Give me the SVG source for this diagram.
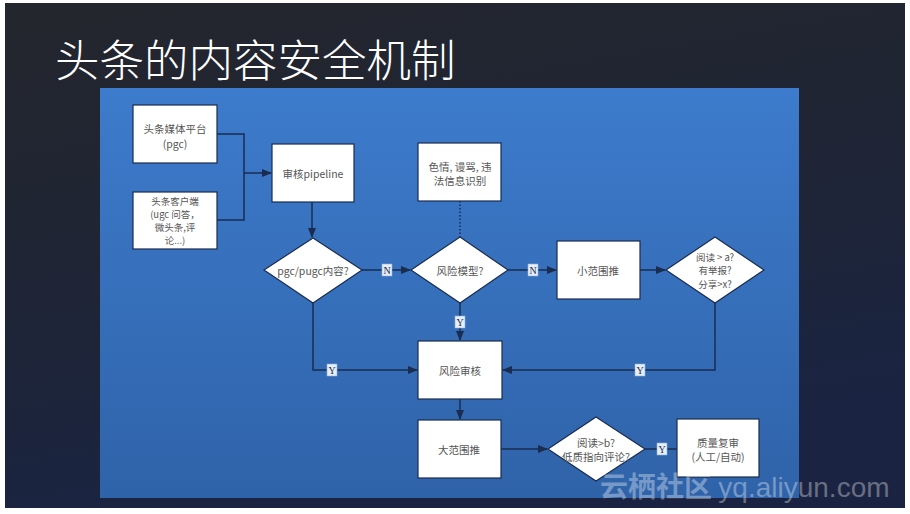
<svg xmlns="http://www.w3.org/2000/svg" width="910" height="514" viewBox="0 0 910 514">
<defs>
<linearGradient id="bg" x1="0" y1="0" x2="0.3" y2="1">
<stop offset="0" stop-color="#24262d"/>
<stop offset="0.5" stop-color="#1f2535"/>
<stop offset="1" stop-color="#1a2442"/>
</linearGradient>
<linearGradient id="panel" x1="0" y1="0" x2="0" y2="1">
<stop offset="0" stop-color="#3d7bcc"/>
<stop offset="1" stop-color="#2f63a9"/>
</linearGradient>
<marker id="arr" viewBox="0 0 10 8" refX="9" refY="4" markerWidth="10" markerHeight="8" markerUnits="userSpaceOnUse" orient="auto">
<path d="M0,0 L10,4 L0,8 Z" fill="#1a2c4f"/>
</marker>
<style>
.node{fill:#ffffff;stroke:#1a2c4f;stroke-width:1.2}
.t{font-family:"Noto Sans CJK SC","Liberation Sans",sans-serif;font-size:10.5px;fill:#555;text-anchor:middle;dominant-baseline:central}
.s{font-size:9.5px}
.c{fill:none;stroke:#1a2c4f;stroke-width:1.5}
.lb{fill:#e6eef8;stroke:#8fb0d8;stroke-width:0.6}
.lt{font-family:"Liberation Serif","DejaVu Serif",serif;font-size:10px;fill:#1a2c4f;text-anchor:middle;dominant-baseline:central}
</style>
</defs>
<rect width="910" height="514" fill="#ffffff"/>
<rect x="5" y="3" width="900" height="505" fill="url(#bg)"/>
<text x="55" y="77" font-family="'Noto Sans CJK SC','Noto Sans',sans-serif" font-size="44.5" fill="#ffffff" font-weight="300">头条的内容安全机制</text>
<rect x="100" y="88" width="699" height="410" fill="url(#panel)"/>

<g id="connectors">
<path class="c" d="M217,134 H244 V220 H217"/>
<path class="c" d="M244,173 H271" marker-end="url(#arr)"/>
<path class="c" d="M312,202 V237" marker-end="url(#arr)"/>
<path class="c" d="M362,270 H410" marker-end="url(#arr)"/>
<path class="c" d="M508,270 H556" marker-end="url(#arr)"/>
<path class="c" d="M640,270 H665" marker-end="url(#arr)"/>
<path class="c" d="M460,201 V237" stroke-dasharray="1.5,2"/>
<path class="c" d="M460,303 V340" marker-end="url(#arr)"/>
<path class="c" d="M313,303 V370 H417" marker-end="url(#arr)"/>
<path class="c" d="M715,303 V370 H503" marker-end="url(#arr)"/>
<path class="c" d="M460,399 V419" marker-end="url(#arr)"/>
<path class="c" d="M501,449 H547" marker-end="url(#arr)"/>
<path class="c" d="M645,449 H677"/>
<g id="labels">
<rect class="lb" x="382" y="264" width="10" height="12"/><text class="lt" x="387" y="270">N</text>
<rect class="lb" x="528" y="264" width="10" height="12"/><text class="lt" x="533" y="270">N</text>
<rect class="lb" x="455" y="316" width="10" height="12"/><text class="lt" x="460" y="322">Y</text>
<rect class="lb" x="327" y="364" width="10" height="12"/><text class="lt" x="332" y="370">Y</text>
<rect class="lb" x="635" y="364" width="10" height="12"/><text class="lt" x="640" y="370">Y</text>
<rect class="lb" x="657" y="443" width="10" height="12"/><text class="lt" x="662" y="449">Y</text>
</g>
</g>

<g id="pgc-platform"><rect class="node" x="133" y="105" width="84" height="58"/><text class="t" x="175" y="128">头条媒体平台</text><text class="t" x="175" y="143">(pgc)</text></g>
<g id="client"><rect class="node" x="133" y="192" width="84" height="57"/><text class="t s" x="175" y="201">头条客户端</text><text class="t s" x="175" y="214">(ugc 问答，</text><text class="t s" x="175" y="227">微头条,评</text><text class="t s" x="175" y="240">论...)</text></g>
<g id="pipeline"><rect class="node" x="272" y="144" width="82" height="58"/><text class="t" x="313" y="173">审核pipeline</text></g>
<g id="pgc-decision"><polygon class="node" points="313,238 362,270 313,303 264,270"/><text class="t" x="313" y="270">pgc/pugc内容?</text></g>
<g id="detect"><rect class="node" x="418" y="143" width="83" height="58"/><text class="t" x="460" y="166">色情, 谩骂, 违</text><text class="t" x="460" y="180">法信息识别</text></g>
<g id="risk-model"><polygon class="node" points="460,237 508,270 460,303 411,270"/><text class="t" x="460" y="270">风险模型?</text></g>
<g id="small-push"><rect class="node" x="557" y="241" width="83" height="58"/><text class="t" x="598" y="270">小范围推</text></g>
<g id="small-decision"><polygon class="node" points="715,237 764,270 715,303 666,270"/><text class="t s" x="715" y="256.5">阅读 &gt; a?</text><text class="t s" x="715" y="270">有举报?</text><text class="t s" x="715" y="283.5">分享&gt;x?</text></g>
<g id="risk-review"><rect class="node" x="418" y="341" width="84" height="58"/><text class="t" x="460" y="370">风险审核</text></g>
<g id="large-push"><rect class="node" x="418" y="420" width="83" height="58"/><text class="t" x="459" y="449">大范围推</text></g>
<g id="large-decision"><polygon class="node" points="596,417 645,449 596,481 548,449"/><text class="t" x="596" y="442">阅读&gt;b?</text><text class="t" x="596" y="456">低质指向评论?</text></g>
<g id="quality-review"><rect class="node" x="677" y="419" width="82" height="58"/><text class="t" x="718" y="442">质量复审</text><text class="t" x="718" y="456">(人工/自动)</text></g>

<text x="600" y="497" font-family="'Noto Sans CJK SC','Liberation Sans',sans-serif" font-size="28" font-weight="bold" fill="#ffffff" fill-opacity="0.35">云栖社区 <tspan font-weight="normal" font-family="'Liberation Sans',sans-serif">yq.aliyun.com</tspan></text>
</svg>
